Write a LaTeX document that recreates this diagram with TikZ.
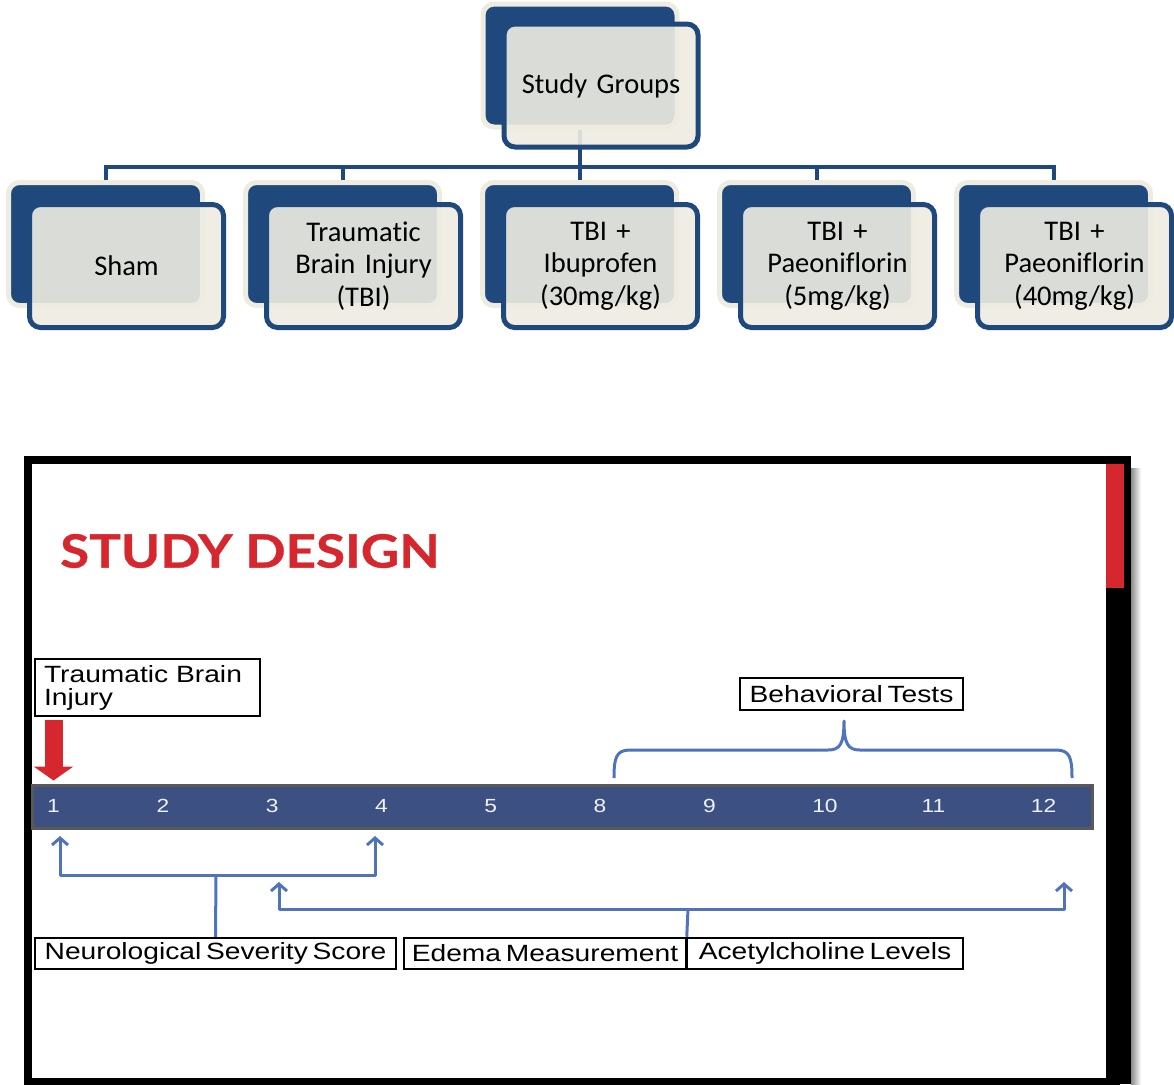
\documentclass[tikz,border=0pt]{standalone}
\usepackage{fontspec}
\setmainfont{Carlito}[Ligatures=NoCommon]
\newfontfamily\armfont{Liberation Sans}[FakeStretch=1.2,WordSpace=0.6]
\newfontfamily\titlefont{Lato}[FakeStretch=1.15,FakeBold=0.8]
\usetikzlibrary{arrows.meta, positioning, calc}
\definecolor{cNavy}{RGB}{31,73,125}
\definecolor{cCream}{RGB}{238,236,225}
\definecolor{cBar}{RGB}{60,80,130}
\definecolor{cLine}{RGB}{79,116,189}
\definecolor{cRed}{RGB}{214,39,47}
\tikzset{
  backbox/.style={rectangle, rounded corners=11pt, fill=cNavy, draw=cCream,
                  line width=5pt, minimum width=194pt, minimum height=123pt},
  frontbox/.style={rectangle, rounded corners=11pt, fill=cCream, fill opacity=0.9,
                   text opacity=1, draw=cNavy, line width=5pt, minimum width=194pt,
                   minimum height=123pt, align=center, text width=184pt,
                   font=\fontsize{28.5}{32.5}\selectfont},
  tree/.style={draw=cNavy, line width=4pt},
  tagbox/.style={rectangle, draw=black, line width=2.5pt, fill=white, inner sep=0pt,
                 font=\armfont\fontsize{23.5}{23}\selectfont},
  blueline/.style={draw=cLine, line width=3pt, line join=round},
  twoarrow/.style={blueline, {Straight Barb[length=7pt,width=16pt]}-{Straight Barb[length=7pt,width=16pt]}},
  redarrow/.style={draw=cRed, line width=18pt, -{Triangle[length=14pt,width=39pt]}},
  daynum/.style={anchor=west, inner sep=0pt, text=white!92!cBar,
                 font=\armfont\fontsize{19}{19}\selectfont}
}
\begin{document}
\begin{tikzpicture}[x=1pt, y=-1pt]
  \useasboundingbox (0,0) rectangle (1174,1084);

  \node[backbox] (sg back) at (580,65.5) {};
  \foreach \name/\x in {sham/105.5, tbi/342.5, ibu/579.5, paelow/816.5, paehigh/1053.5}
    \node[backbox] (\name back) at (\x,244) {};
  \foreach \name in {sham, tbi, ibu, paelow, paehigh}
    \draw[tree] (sg back.south) -- ++(0,37.5) -| (\name back.north);
  \node[frontbox, xshift=21pt, yshift=-20pt] (sg) at (sg back) {Study Groups};
  \foreach \name/\txt in {sham/Sham, tbi/{Traumatic\\Brain Injury\\(TBI)},
      ibu/{TBI +\\Ibuprofen\\(30mg/kg)}, paelow/{TBI +\\Paeoniflorin\\(5mg/kg)},
      paehigh/{TBI +\\Paeoniflorin\\(40mg/kg)}}
    \node[frontbox, xshift=21pt, yshift=-22pt] (\name) at (\name back) {\txt};

  \draw[line width=8pt] (1120,460) -- (28,460) -- (28,1082) -- (1120,1082);
  \fill[black] (1106,456) rectangle (1131,1084);
  \fill[cRed] (1106,464) rectangle (1124,588);
  \shade[left color=black!45, right color=white] (1131,468) rectangle (1141,1084);

  \node[anchor=west, inner sep=0pt, text=cRed,
        font=\titlefont\bfseries\fontsize{46}{46}\selectfont] (title) at (60,551) {STUDY DESIGN};

  \node[tagbox, minimum width=225pt, minimum height=57pt, text width=207pt, align=left]
      (injury) at (147.5,687.5) {Traumatic Brain\\Injury};
  \node[rectangle, draw=black!65, line width=3pt, fill=cBar, inner sep=0pt,
        minimum width=1060pt, minimum height=43pt] (bar) at (562,806.5) {};
  \foreach \d [count=\i from 0] in {1,2,3,4,5,8,9,10,11,12}
    \node[daynum] (d\d) at (47+109.3*\i,806) {\d};
  \coordinate (tbitip) at ($(bar.north west)+(23,-3)$);
  \draw[redarrow] (injury.south -| tbitip) ++(0,3) -- (tbitip);

  \node[tagbox, minimum width=223pt, minimum height=32pt] (behav) at (851.5,694) {Behavioral Tests};
  \draw[blueline] (614,778) .. controls (614,758) and (616,750) .. (630,750) -- (828,750)
      .. controls (840,750) and (844,744) .. (844,721)
      .. controls (844,744) and (848,750) .. (860,750) -- (1056,750)
      .. controls (1070,750) and (1072,758) .. (1072,778);

  \node[tagbox, minimum width=361pt, minimum height=31pt] (nss) at (215.5,953.5) {Neurological Severity Score};
  \node[tagbox, minimum width=282pt, minimum height=31pt] (edema) at (545,953.5) {Edema Measurement};
  \node[tagbox, minimum width=276pt, minimum height=31pt] (ach) at (825,953.5) {Acetylcholine Levels};

  \coordinate (nssL) at (60,836);
  \coordinate (nssR) at (375,836);
  \coordinate (nssmid) at (216,875);
  \draw[blueline] (nss.north) -- (nssmid);
  \draw[twoarrow] (nssL) |- (nssmid) -| (nssR);

  \coordinate (labL) at (279,882);
  \coordinate (labR) at (1064,882);
  \coordinate (labmid) at (688,909);
  \draw[blueline] (ach.north west) ++(1,0) -- (labmid);
  \draw[twoarrow] (labL) |- (labmid) -| (labR);
\end{tikzpicture}
\end{document}
